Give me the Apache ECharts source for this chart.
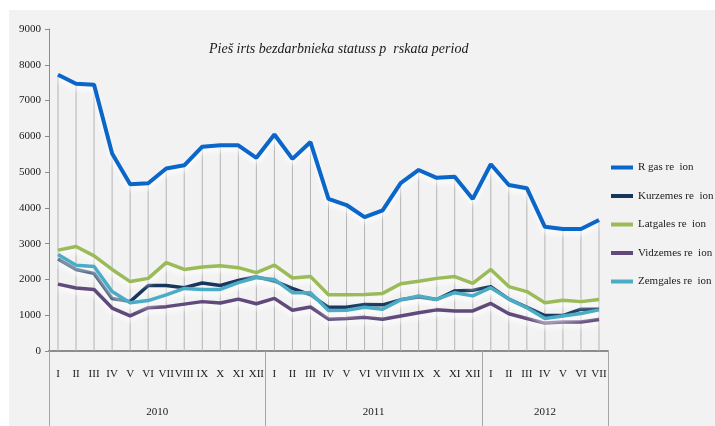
<!DOCTYPE html>
<html><head><meta charset="utf-8">
<script src="https://cdn.jsdelivr.net/npm/echarts@6/dist/echarts.min.js"></script>
<style>html,body{margin:0;padding:0;background:#fff}#c{width:715px;height:426px}</style>
</head><body><div id="c"></div>
<script>
const months = ['I','II','III','IV','V','VI','VII','VIII','IX','X','XI','XII',
                'I','II','III','IV','V','VI','VII','VIII','IX','X','XI','XII',
                'I','II','III','IV','V','VI','VII'];
const years = ['2010','2011','2012'];
const monthsPerYear = [12, 12, 7];
const seriesNames = ['R gas re  ion','Kurzemes re  ion','Latgales re  ion','Vidzemes re  ion','Zemgales re  ion'];
const riga = [7720,7470,7440,5520,4660,4690,5100,5190,5710,5750,5750,5400,
              6050,5370,5840,4250,4080,3740,3930,4690,5060,4840,4870,4250,
              5220,4640,4550,3470,3410,3410,3660];
const kurzeme = [2570,2280,2170,1470,1380,1830,1830,1770,1900,1830,1970,2080,
                 1950,1750,1570,1220,1220,1300,1290,1430,1510,1440,1680,1700,
                 1800,1450,1220,990,990,1170,1170];
const latgale = [2820,2920,2660,2280,1940,2030,2470,2280,2350,2380,2330,2190,
                 2400,2040,2080,1570,1570,1580,1610,1880,1950,2030,2080,1890,
                 2280,1800,1660,1350,1420,1380,1440];
const vidzeme = [1870,1760,1720,1200,980,1210,1240,1310,1380,1340,1450,1320,
                 1470,1140,1230,890,910,940,890,980,1070,1150,1120,1120,
                 1330,1040,910,780,810,810,880];
const zemgale = [2700,2400,2360,1660,1350,1410,1570,1750,1720,1720,1910,2050,
                 2000,1630,1630,1130,1140,1220,1170,1430,1540,1440,1630,1540,
                 1770,1450,1210,910,980,1050,1150];
const yTicks = [0,1000,2000,3000,4000,5000,6000,7000,8000,9000];

const colors = ['#0a66c8','#17365d','#9bbb59','#604a7b','#4bacc6'];
const dataSets = [riga, kurzeme, latgale, vidzeme, zemgale];
const serif = '"Liberation Serif", "Times New Roman", serif';

const yearCenters = {};
let acc = 0;
monthsPerYear.forEach((n, i) => { yearCenters[acc + n / 2] = years[i]; acc += n; });
const boundaries = [];
acc = 0;
monthsPerYear.forEach(n => { boundaries.push(acc); acc += n; });

const chart = echarts.init(document.getElementById('c'));
const lineSeries = dataSets.map((d, i) => ({
  name: seriesNames[i], type: 'line', data: d, xAxisIndex: 0,
  symbol: 'none', z: 3 + i,
  lineStyle: { color: colors[i], width: i === 0 ? 4 : 3.5,
    shadowColor: 'rgba(255,255,255,0.9)', shadowBlur: 5, shadowOffsetY: 4 },
  itemStyle: { color: colors[i] }
}));
chart.setOption({
  animation: false,
  backgroundColor: '#ffffff',
  graphic: [{ type: 'rect', left: 9, top: 10, shape: { width: 706, height: 416 },
    style: { fill: '#f2f2f2' }, z: -10 }],
  title: { text: 'Pieš irts bezdarbnieka statuss p  rskata period', left: 204, top: 37,
    textStyle: { fontFamily: serif, fontStyle: 'italic', fontWeight: 'normal', fontSize: 14, color: '#1a1a1a' } },
  legend: { orient: 'vertical', left: 606, top: 157, itemGap: 17.5, itemWidth: 22, itemHeight: 4,
    icon: 'rect', data: seriesNames,
    textStyle: { fontFamily: serif, fontSize: 11, color: '#1a1a1a' } },
  grid: { left: 49, right: 107, top: 29, bottom: 75 },
  xAxis: [{
    type: 'category', data: months, boundaryGap: true,
    axisLine: { lineStyle: { color: '#8c8c8c', width: 2 } },
    axisTick: { show: true, length: 75, interval: (idx) => boundaries.includes(idx),
      lineStyle: { color: '#a6a6a6', width: 1 } },
    axisLabel: { interval: 0, margin: 18, fontFamily: serif, fontSize: 11, color: '#1a1a1a' }
  }, {
    type: 'value', position: 'bottom', min: 0, max: acc, interval: 0.5,
    axisLine: { show: false }, axisTick: { show: false }, splitLine: { show: false },
    axisLabel: { margin: 56, fontFamily: serif, fontSize: 11, color: '#1a1a1a',
      showMinLabel: true, showMaxLabel: true,
      formatter: (v) => yearCenters[v] || '' }
  }],
  yAxis: {
    type: 'value', min: 0, max: 9000, interval: 1000,
    axisLine: { show: true, lineStyle: { color: '#8c8c8c', width: 1 } },
    axisTick: { show: true, length: 4, lineStyle: { color: '#8c8c8c' } },
    splitLine: { show: false },
    axisLabel: { margin: 8, fontFamily: serif, fontSize: 11, color: '#1a1a1a',
      formatter: (v) => yTicks.includes(v) ? String(v) : '' }
  },
  series: [{
    name: 'drop', type: 'bar', data: riga, barWidth: 1, xAxisIndex: 0, z: 1,
    itemStyle: { color: '#b4b4b4' }, silent: true
  }].concat(lineSeries)
});
</script></body></html>
